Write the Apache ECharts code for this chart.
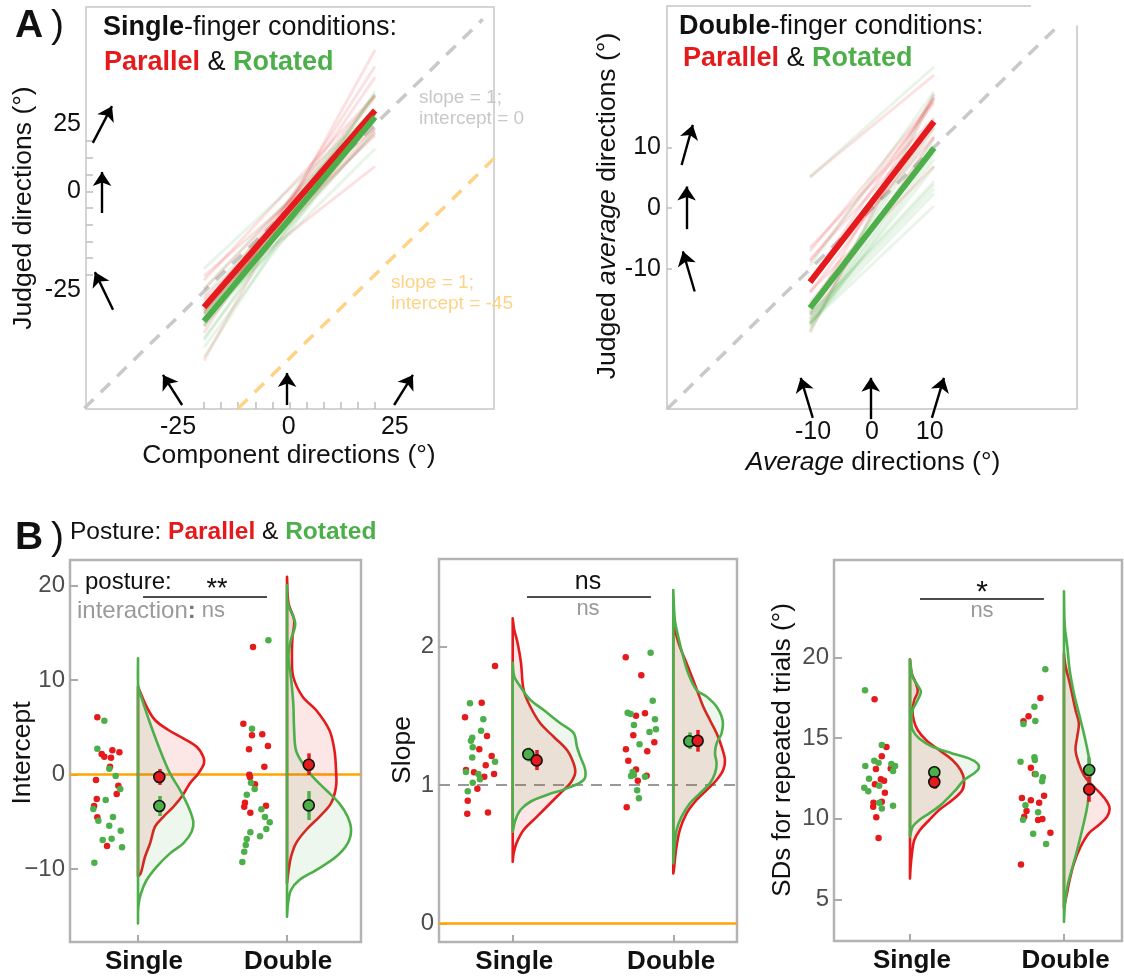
<!DOCTYPE html>
<html><head><meta charset="utf-8">
<script src="https://cdn.jsdelivr.net/npm/echarts@6/dist/echarts.min.js"></script>
<style>html,body{margin:0;padding:0;background:#fff}#c{width:1124px;height:976px}</style>
</head><body><div id="c"></div><script>
const RED = '#E41A1C', GREEN = '#4DAF4A', ORANGE = '#FFA500';
const FONT = '"Liberation Sans", Arial, Helvetica, sans-serif';

// ---------- Panel A: per-participant fits (intercept, slope) ----------
const aSingleRedInt = [6.05, 2.56, 2.35, 2.17, 1.88, 1.78, 0.83, -0.58, -1.18, -2.06, -2.59, -3.33, -4.53, -7.57];
const aSingleRedSlope = [1.108, 1.595, 1.258, 1.060, 1.489, 0.886, 1.86, 1.354, 1.210, 1.142, 0.973, 1.092, 1.080, 0.802];
const aSingleGreenInt = [5.69, 2.73, 0.61, -0.16, -1.53, -2.70, -3.65, -4.89, -4.50, -5.42, -5.95, -6.93, -7.70];
const aSingleGreenSlope = [0.954, 1.080, 1.320, 1.041, 1.198, 1.475, 1.273, 1.591, 1.094, 1.342, 1.169, 1.393, 1.017];
const aDoubleRedInt = [13.49, 5.38, 4.15, 4.25, 3.02, 2.67, 0.83, -0.02, -0.30, -1.04, -2.98, -3.41, -3.30];
const aDoubleRedSlope = [0.839, 1.244, 1.067, 1.309, 1.518, 1.113, 1.793, 1.176, 1.359, 1.923, 1.258, 1.031, 1.501];
const aDoubleGreenInt = [14.2, 4.85, -0.87, -1.53, -2.14, -3.68, -4.50, -5.06, -5.77, -6.12, -6.54, -6.83, -7.46, -8.17, -9.26];
const aDoubleGreenSlope = [0.904, 1.434, 1.957, 1.610, 1.523, 1.513, 1.475, 1.403, 1.383, 1.294, 1.094, 1.072, 1.065, 1.060, 0.962];
const aSingleRange = [-25, 25];
const aDoubleRange = [-10, 10];
// reference lines (slope 1; intercept 0 / -45)
const aSingleIdentity = [[-60, -60], [56.5, 56.5]];
const aSingleOffset45 = [[-15, -60], [60, 15]];
const aDoubleIdentity = [[-33, -33], [30, 30]];
// direction arrows (tail, head)
const aSingleArrows = [
  [[-57.5, 19.5], [-51.9, 30.5]], [[-54.8, -1.5], [-54.8, 10.8]], [[-51.6, -30.5], [-56.9, -19.2]],
  [[-31.4, -59], [-37, -50]], [[-0.7, -59], [-0.7, -49.4]], [[30.6, -59], [36.1, -50]]
];
const aDoubleArrows = [
  [[-30.7, 7.1], [-28.9, 13.7]], [[-29.9, -3.45], [-29.9, 3.57]], [[-28.6, -13.7], [-30.5, -7.1]],
  [[-9.55, -34.5], [-11.5, -27.9]], [[-0.2, -34.7], [-0.2, -27.9]], [[9.66, -34.5], [11.6, -27.9]]
];
// tick labels / tick marks
const aSingleXLabelPos = [-32.6, -0.2, 30.8], aSingleXLabelText = ['-25', '0', '25'];
const aSingleYLabelPos = [25.1, 5.1, -24.6], aSingleYLabelText = ['25', '0', '-25'];
const aSingleXTicks = [-25, -20, -15, -10, -5, 0, 5, 10, 15, 20, 25];
const aSingleYTicks = [-20, -15, -10, -5, 0, 5, 10, 15, 20];
const aDoubleXLabelPos = [-9.5, 0, 9.3], aDoubleXLabelText = ['-10', '0', '10'];
const aDoubleYTicks = [-10, 0, 10], aDoubleYLabelText = ['-10', '0', '10'];

// ---------- Panel B: per-participant values [jitter x, value] ----------
const intSingleRed = [[0.727,6.05],[0.828,2.56],[0.875,2.35],[0.756,2.17],[0.774,1.88],[0.819,1.78],[0.812,0.83],[0.718,-0.58],[0.868,-1.18],[0.857,-2.06],[0.723,-2.59],[0.705,-3.33],[0.727,-4.53],[0.792,-7.57]];
const intSingleGreen = [[0.774,5.69],[0.727,2.73],[0.807,0.61],[0.850,-0.16],[0.881,-1.53],[0.783,-2.70],[0.700,-3.65],[0.734,-4.89],[0.832,-4.50],[0.807,-5.42],[0.884,-5.95],[0.763,-6.93],[0.823,-6.79],[0.893,-7.70],[0.707,-9.33]];
const intDoubleRed = [[1.772,13.49],[1.707,5.38],[1.765,4.15],[1.834,4.25],[1.872,3.02],[1.745,2.67],[1.848,0.83],[1.747,-0.02],[1.752,-0.30],[1.785,-1.04],[1.718,-2.98],[1.713,-3.41],[1.859,-3.30],[1.754,-4.04]];
const intDoubleGreen = [[1.875,14.2],[1.765,4.85],[1.758,-0.87],[1.783,-1.53],[1.730,-2.14],[1.828,-3.68],[1.852,-4.50],[1.884,-5.06],[1.861,-5.77],[1.754,-6.12],[1.819,-6.54],[1.730,-6.83],[1.723,-7.46],[1.713,-8.17],[1.700,-9.26]];

const slopeSingleRed = [[0.890,1.860],[0.807,1.595],[0.703,1.489],[0.840,1.354],[0.792,1.258],[0.869,1.210],[0.832,1.142],[0.709,1.108],[0.759,1.092],[0.884,1.080],[0.823,1.060],[0.780,0.973],[0.720,0.886],[0.717,0.792],[0.846,0.802]];
const slopeSingleGreen = [[0.734,1.591],[0.817,1.475],[0.803,1.393],[0.748,1.342],[0.740,1.320],[0.751,1.273],[0.748,1.198],[0.890,1.169],[0.709,1.094],[0.786,1.080],[0.796,1.041],[0.751,1.017],[0.720,0.954]];
const slopeDoubleRed = [[1.704,1.923],[1.801,1.793],[1.824,1.518],[1.768,1.501],[1.751,1.359],[1.882,1.309],[1.705,1.258],[1.838,1.244],[1.720,1.176],[1.768,1.113],[1.834,1.067],[1.779,1.031],[1.710,0.839]];
const slopeDoubleGreen = [[1.859,1.957],[1.872,1.610],[1.716,1.523],[1.735,1.513],[1.886,1.475],[1.755,1.434],[1.892,1.403],[1.852,1.383],[1.790,1.294],[1.747,1.094],[1.755,1.072],[1.824,1.060],[1.737,1.065],[1.775,0.962],[1.786,0.904]];

const sdSingleRed = [[0.770,17.40],[0.847,14.45],[0.817,13.87],[0.779,13.08],[0.875,13.12],[0.811,12.44],[0.832,12.36],[0.772,12.13],[0.837,11.61],[0.817,11.05],[0.763,10.99],[0.761,10.74],[0.781,10.09],[0.796,8.80]];
const sdSingleGreen = [[0.708,17.96],[0.817,14.57],[0.768,13.60],[0.796,13.47],[0.710,13.27],[0.879,13.39],[0.903,13.27],[0.890,12.96],[0.734,12.48],[0.800,12.05],[0.703,11.92],[0.729,11.70],[0.800,10.99],[0.817,10.64],[0.890,10.81]];
const sdDoubleRed = [[1.847,17.48],[1.770,16.35],[1.737,16.04],[1.785,13.16],[1.811,12.77],[1.727,11.28],[1.785,11.14],[1.839,10.99],[1.871,11.43],[1.757,10.48],[1.742,10.12],[1.832,9.92],[1.860,9.98],[1.912,9.13],[1.721,7.17]];
const sdDoubleGreen = [[1.879,19.26],[1.808,16.94],[1.814,16.06],[1.737,15.87],[1.718,13.53],[1.808,13.81],[1.811,13.64],[1.817,12.75],[1.863,12.57],[1.858,12.32],[1.750,10.83],[1.832,10.40],[1.734,9.94],[1.800,9.07],[1.884,8.43]];

// means [x, mean, low, high]
const intMeanRed = [[1.143,-0.26,-1.10,0.58],[2.146,1.04,-0.05,2.24]];
const intMeanGreen = [[1.143,-3.33,-4.39,-2.27],[2.146,-3.26,-4.81,-1.75]];
const slopeMeanRed = [[1.149,1.178,1.108,1.253],[2.152,1.320,1.241,1.398]];
const slopeMeanGreen = [[1.097,1.222,1.17,1.27],[2.100,1.316,1.26,1.38]];
const sdMeanRed = [[1.158,12.28,11.85,12.70],[2.164,11.82,11.05,12.60]];
const sdMeanGreen = [[1.158,12.88,12.50,13.25],[2.164,13.02,12.20,13.80]];

// half-violin outlines [value, width]
const intViolinSingleRed = [[9.3,0],[8.94,0.009],[7.18,0.058],[5.77,0.114],[4.71,0.204],[3.83,0.304],[2.94,0.394],[1.88,0.438],[1.18,0.443],[0.12,0.405],[-0.93,0.349],[-2.35,0.293],[-3.41,0.237],[-4.47,0.170],[-5.52,0.114],[-7.28,0.081],[-8.70,0.047],[-10.46,0.018],[-10.8,0]];
const intViolinSingleGreen = [[12.3,0],[9.29,0.002],[8.06,0.025],[5.42,0.081],[2.59,0.148],[0.12,0.215],[-1.64,0.282],[-3.41,0.338],[-4.99,0.371],[-6.05,0.360],[-7.28,0.304],[-8.34,0.215],[-9.76,0.125],[-11.16,0.058],[-12.57,0.020],[-13.99,0.002],[-15.75,0]];
const intViolinDoubleRed = [[20.93,0],[18.12,0.010],[16.35,0.048],[14.58,0.037],[12.47,0.033],[10.35,0.042],[8.23,0.105],[6.83,0.195],[4.71,0.284],[2.59,0.318],[0.48,0.329],[-1.29,0.329],[-3.05,0.295],[-4.47,0.217],[-5.87,0.128],[-7.28,0.060],[-8.70,0.027],[-10.11,0.011],[-11.51,0]];
const intViolinDoubleGreen = [[20.05,0],[18.12,0.005],[16.0,0.055],[14.23,0.026],[12.47,0.010],[10.35,0.026],[7.53,0.042],[4.71,0.048],[2.59,0.060],[1.18,0.105],[-0.23,0.172],[-1.64,0.262],[-3.05,0.351],[-4.47,0.407],[-5.87,0.430],[-7.28,0.407],[-8.70,0.329],[-10.11,0.195],[-11.16,0.083],[-12.22,0.027],[-13.63,0.007],[-15.05,0]];
const slopeViolinSingleRed = [[2.205,0],[2.121,0.010],[2.025,0.031],[1.880,0.052],[1.687,0.068],[1.566,0.110],[1.446,0.172],[1.349,0.255],[1.253,0.338],[1.157,0.379],[1.085,0.389],[1.012,0.358],[0.940,0.296],[0.868,0.234],[0.771,0.151],[0.675,0.068],[0.578,0.023],[0.506,0.006],[0.445,0]];
const slopeViolinSingleGreen = [[1.884,0],[1.783,0.010],[1.711,0.048],[1.615,0.110],[1.542,0.193],[1.446,0.297],[1.374,0.380],[1.277,0.400],[1.205,0.421],[1.108,0.452],[1.036,0.442],[0.976,0.338],[0.928,0.213],[0.879,0.110],[0.819,0.048],[0.747,0.017],[0.662,0]];
const slopeViolinDoubleRed = [[2.169,0],[2.121,0.010],[2.0,0.041],[1.880,0.083],[1.759,0.124],[1.663,0.155],[1.566,0.187],[1.470,0.228],[1.374,0.270],[1.277,0.301],[1.181,0.322],[1.108,0.311],[1.036,0.270],[0.964,0.208],[0.892,0.145],[0.795,0.083],[0.675,0.041],[0.530,0.017],[0.385,0.004],[0.36,0]];
const slopeViolinDoubleGreen = [[2.41,0],[2.193,0.010],[2.072,0.031],[1.928,0.062],[1.808,0.093],[1.687,0.145],[1.639,0.208],[1.566,0.270],[1.470,0.307],[1.374,0.301],[1.301,0.270],[1.229,0.260],[1.157,0.270],[1.085,0.260],[1.012,0.228],[0.940,0.166],[0.868,0.104],[0.771,0.052],[0.675,0.021],[0.530,0.006],[0.434,0]];
const sdViolinSingleRed = [[19.88,0],[19.01,0.011],[18.39,0.039],[17.87,0.050],[17.36,0.028],[16.74,0.017],[16.12,0.024],[15.50,0.050],[14.88,0.104],[14.26,0.189],[13.64,0.275],[13.02,0.329],[12.40,0.351],[11.78,0.340],[11.16,0.275],[10.54,0.189],[9.92,0.125],[9.30,0.065],[8.68,0.028],[7.86,0.013],[7.02,0.004],[6.30,0]];
const sdViolinSingleGreen = [[19.88,0],[18.80,0.017],[18.18,0.056],[17.87,0.071],[17.36,0.050],[16.74,0.017],[16.12,0.009],[15.50,0.017],[14.98,0.060],[14.46,0.146],[14.05,0.275],[13.74,0.383],[13.43,0.437],[13.12,0.447],[12.81,0.415],[12.40,0.351],[11.78,0.297],[10.95,0.211],[10.33,0.125],[9.92,0.060],[9.50,0.017],[8.88,0]];
const sdViolinDoubleRed = [[20.25,0],[19.5,0.010],[18.18,0.043],[16.74,0.075],[15.91,0.097],[15.08,0.086],[14.26,0.075],[13.43,0.097],[12.71,0.129],[12.19,0.172],[11.57,0.237],[11.05,0.280],[10.64,0.297],[10.12,0.280],[9.61,0.226],[9.09,0.161],[8.26,0.108],[7.23,0.065],[6.20,0.037],[5.16,0.015],[4.5,0]];
const sdViolinDoubleGreen = [[24.1,0],[22,0.005],[20.66,0.022],[19.22,0.037],[17.77,0.065],[16.53,0.097],[15.29,0.129],[14.05,0.157],[13.02,0.172],[11.98,0.166],[10.74,0.151],[9.50,0.123],[8.06,0.086],[6.82,0.050],[5.78,0.022],[4.75,0.007],[3.61,0]];

// significance bars [x, y]
const intSigBar = [[1.034, 18.78], [1.866, 18.78]];
const slopeSigBar = [[1.089, 2.359], [1.861, 2.359]];
const sdSigBar = [[1.065, 23.62], [1.870, 23.62]];

// B axes ticks and category labels
const bCatTicks = [1, 2], bCatText = ['Single', 'Double'];
const intCatLabelPos = [1.04, 2.007], slopeCatLabelPos = [1.01, 1.987], sdCatLabelPos = [1.013, 2.011];
const intTicks = [-10, 0, 10, 20], intTickText = ['\u221210', '0', '10', '20'];
const slopeTicks = [0, 1, 2], slopeTickText = ['0', '1', '2'];
const sdTicks = [5, 10, 15, 20], sdTickText = ['5', '10', '15', '20'];

// ---------- layout ----------
const grids = [
  {left: 86, top: 7, width: 408, height: 402},
  {left: 667, top: 6, width: 410, height: 403},
  {left: 70, top: 560, width: 291, height: 382},
  {left: 439, top: 559, width: 298, height: 383},
  {left: 834, top: 560, width: 288, height: 381}
];
const xExt = [[-59.5, 59.8], [-33.06, 33.06], [0.5436, 2.4966], [0.541, 2.397], [0.5065, 2.377]];
const yExt = [[-60.2, 60.2], [-33.03, 33.26], [-17.72, 22.70], [-0.135, 2.634], [2.42, 26.04]];

const pick = (pos, txt) => v => { const i = pos.findIndex(p => Math.abs(p - v) < 1e-6); return i < 0 ? '' : txt[i]; };

function axis(g, dim, o) {
  const ext = dim === 'x' ? xExt[g] : yExt[g];
  return {
    gridIndex: g, type: 'value', min: ext[0], max: ext[1],
    axisLine: o.line ? {show: true, onZero: false, lineStyle: {color: '#c4c4c4', width: 1.5}} : {show: false, onZero: false},
    splitLine: {show: false},
    axisTick: o.ticks ? {show: true, inside: true, length: o.tickLen || 7, customValues: o.ticks, lineStyle: {color: o.tickColor || '#bdbdbd', width: o.tickWidth || 1.5}} : {show: false},
    axisLabel: o.labels ? Object.assign({show: true, customValues: o.labels, formatter: pick(o.labels, o.texts), fontFamily: FONT, margin: o.margin || 6, fontSize: o.fontSize || 25, color: o.color || '#111'}, o.labelStyle || {}) : {show: false}
  };
}
const catLabel = {fontWeight: 'bold', fontSize: 26, color: '#111'};
const xAxes = [
  axis(0, 'x', {ticks: aSingleXTicks, labels: aSingleXLabelPos, texts: aSingleXLabelText, margin: 6}),
  axis(1, 'x', {line: true, labels: aDoubleXLabelPos, texts: aDoubleXLabelText, margin: 11}),
  axis(2, 'x', {ticks: bCatTicks, tickColor: '#aaa', tickWidth: 2, labels: intCatLabelPos, texts: bCatText, margin: 7, labelStyle: catLabel}),
  axis(3, 'x', {ticks: bCatTicks, tickColor: '#aaa', tickWidth: 2, labels: slopeCatLabelPos, texts: bCatText, margin: 7, labelStyle: catLabel}),
  axis(4, 'x', {ticks: bCatTicks, tickColor: '#aaa', tickWidth: 2, labels: sdCatLabelPos, texts: bCatText, margin: 7, labelStyle: catLabel})
];
const yAxes = [
  axis(0, 'y', {ticks: aSingleYTicks, labels: aSingleYLabelPos, texts: aSingleYLabelText, margin: 5}),
  axis(1, 'y', {line: true, ticks: aDoubleYTicks, tickLen: 5, labels: aDoubleYTicks, texts: aDoubleYLabelText, margin: 6}),
  axis(2, 'y', {ticks: intTicks, tickColor: '#aaa', tickWidth: 2, tickLen: 8, labels: intTicks, texts: intTickText, margin: 5, fontSize: 24, color: '#4d4d4d'}),
  axis(3, 'y', {ticks: slopeTicks, tickColor: '#aaa', tickWidth: 2, tickLen: 8, labels: slopeTicks, texts: slopeTickText, margin: 5, fontSize: 24, color: '#4d4d4d'}),
  axis(4, 'y', {ticks: sdTicks, tickColor: '#aaa', tickWidth: 2, tickLen: 8, labels: sdTicks, texts: sdTickText, margin: 5, fontSize: 24, color: '#4d4d4d'})
];

function lines(g, data, lineStyle, extra) {
  return Object.assign({type: 'lines', coordinateSystem: 'cartesian2d', xAxisIndex: g, yAxisIndex: g,
    polyline: false, silent: true, symbol: 'none', clip: false, lineStyle: lineStyle, data: data}, extra || {});
}
const fits = (ints, slopes, range) => ints.map((b, i) => ({coords: range.map(x => [x, b + slopes[i] * x])}));
const arrowSeries = (g, arr) => lines(g, arr.map(c => ({coords: c})), {color: '#000', width: 2.4, opacity: 1},
  {symbol: ['none', 'arrow'], symbolSize: [12, 14], z: 6});

function scatter(g, data, color, size, z, extraStyle) {
  return {type: 'scatter', xAxisIndex: g, yAxisIndex: g, silent: true, symbol: 'circle', symbolSize: size,
    itemStyle: Object.assign({color: color, opacity: 1}, extraStyle || {}), data: data, z: z, clip: false};
}
function violin(g, base, shape, color, fill) {
  return {type: 'custom', xAxisIndex: g, yAxisIndex: g, silent: true, z: 3, clip: false,
    data: [[base, shape[0][0]]],
    renderItem: (params, api) => {
      const pts = [api.coord([base, shape[0][0]])];
      shape.forEach(p => pts.push(api.coord([base + p[1], p[0]])));
      pts.push(api.coord([base, shape[shape.length - 1][0]]));
      return {type: 'polygon', shape: {points: pts, smooth: 0.35}, style: {fill: fill, stroke: color, lineWidth: 2.6, lineJoin: 'round'}};
    }};
}
const FILL_R = 'rgba(228,26,28,0.11)', FILL_G = 'rgba(77,175,74,0.10)';
function bPanel(g, sR, sG, dR, dG, vSR, vSG, vDR, vDG, mR, mG, sig) {
  return [
    scatter(g, sR, RED, 6.5, 2), scatter(g, sG, GREEN, 6.5, 2),
    scatter(g, dR, RED, 6.5, 2), scatter(g, dG, GREEN, 6.5, 2),
    violin(g, 1, vSR, RED, FILL_R), violin(g, 1, vSG, GREEN, FILL_G),
    violin(g, 2, vDR, RED, FILL_R), violin(g, 2, vDG, GREEN, FILL_G),
    lines(g, mG.map(m => ({coords: [[m[0], m[2]], [m[0], m[3]]]})), {color: GREEN, width: 3.5, opacity: 1}, {z: 4}),
    lines(g, mR.map(m => ({coords: [[m[0], m[2]], [m[0], m[3]]]})), {color: RED, width: 3.5, opacity: 1}, {z: 4}),
    scatter(g, mG.map(m => [m[0], m[1]]), GREEN, 11, 5, {borderColor: '#111', borderWidth: 1.6}),
    scatter(g, mR.map(m => [m[0], m[1]]), RED, 11, 5, {borderColor: '#111', borderWidth: 1.6}),
    lines(g, [{coords: sig}], {color: '#111', width: 1.5, opacity: 1}, {z: 5})
  ];
}

const series = [
  // Panel A left
  lines(0, [{coords: aSingleIdentity}], {color: '#c9c9c9', width: 3.5, type: [13, 10], opacity: 1}, {z: 1}),
  lines(0, [{coords: aSingleOffset45}], {color: '#ffd386', width: 3.5, type: [13, 10], opacity: 1}, {z: 1}),
  lines(0, fits(aSingleRedInt, aSingleRedSlope, aSingleRange), {color: RED, width: 3, opacity: 0.13}, {z: 2}),
  lines(0, fits(aSingleGreenInt, aSingleGreenSlope, aSingleRange), {color: GREEN, width: 3, opacity: 0.13}, {z: 2}),
  lines(0, [{coords: aSingleRange.map(x => [x, intMeanRed[0][1] + slopeMeanRed[0][1] * x])}], {color: RED, width: 6, opacity: 1}, {z: 4}),
  lines(0, [{coords: aSingleRange.map(x => [x, intMeanGreen[0][1] + slopeMeanGreen[0][1] * x])}], {color: GREEN, width: 6, opacity: 1}, {z: 4}),
  arrowSeries(0, aSingleArrows),
  // Panel A right
  lines(1, [{coords: aDoubleIdentity}], {color: '#c9c9c9', width: 3.5, type: [13, 10], opacity: 1}, {z: 1}),
  lines(1, [{coords: [[-33.06, 33.26], [25.65, 33.26]]}, {coords: [[33.06, 30.1], [33.06, -33.03]]}], {color: '#c4c4c4', width: 1.5, opacity: 1}, {z: 1}),
  lines(1, fits(aDoubleRedInt, aDoubleRedSlope, aDoubleRange), {color: RED, width: 3, opacity: 0.13}, {z: 2}),
  lines(1, fits(aDoubleGreenInt, aDoubleGreenSlope, aDoubleRange), {color: GREEN, width: 3, opacity: 0.13}, {z: 2}),
  lines(1, [{coords: aDoubleRange.map(x => [x, intMeanRed[1][1] + slopeMeanRed[1][1] * x])}], {color: RED, width: 6, opacity: 1}, {z: 4}),
  lines(1, [{coords: aDoubleRange.map(x => [x, intMeanGreen[1][1] + slopeMeanGreen[1][1] * x])}], {color: GREEN, width: 6, opacity: 1}, {z: 4}),
  arrowSeries(1, aDoubleArrows),
  // Panel B reference lines
  lines(2, [{coords: [[xExt[2][0], 0], [xExt[2][1], 0]]}], {color: ORANGE, width: 2.5, opacity: 1}, {z: 1}),
  lines(3, [{coords: [[xExt[3][0], 0], [xExt[3][1], 0]]}], {color: ORANGE, width: 2.5, opacity: 1}, {z: 1}),
  lines(3, [{coords: [[xExt[3][0], 1], [xExt[3][1], 1]]}], {color: '#999', width: 2, type: [11, 8], opacity: 1}, {z: 1}),
  ...bPanel(2, intSingleRed, intSingleGreen, intDoubleRed, intDoubleGreen, intViolinSingleRed, intViolinSingleGreen, intViolinDoubleRed, intViolinDoubleGreen, intMeanRed, intMeanGreen, intSigBar),
  ...bPanel(3, slopeSingleRed, slopeSingleGreen, slopeDoubleRed, slopeDoubleGreen, slopeViolinSingleRed, slopeViolinSingleGreen, slopeViolinDoubleRed, slopeViolinDoubleGreen, slopeMeanRed, slopeMeanGreen, slopeSigBar),
  ...bPanel(4, sdSingleRed, sdSingleGreen, sdDoubleRed, sdDoubleGreen, sdViolinSingleRed, sdViolinSingleGreen, sdViolinDoubleRed, sdViolinDoubleGreen, sdMeanRed, sdMeanGreen, sdSigBar)
];

const R = (o) => Object.assign({fontFamily: FONT, fill: '#111'}, o);
function txt(x, y, text, style, rot) {
  const el = {type: 'text', x: x, y: y, silent: true, z: 100,
    style: Object.assign({text: text, fontFamily: FONT, fill: '#111', align: 'left', verticalAlign: 'middle'}, style)};
  if (rot) el.rotation = rot;
  return el;
}
const richTitle = (sz) => ({
  b: R({fontSize: sz, fontWeight: 'bold'}), n: R({fontSize: sz}),
  r: R({fontSize: sz, fontWeight: 'bold', fill: RED}), g: R({fontSize: sz, fontWeight: 'bold', fill: GREEN}),
  i: R({fontSize: sz, fontStyle: 'italic'})
});
const NAME = 26.5;
const graphic = [
  txt(15, 26, '{a|A}{p|\u2009)}', {rich: {a: R({fontSize: 39, fontWeight: 'bold'}), p: R({fontSize: 39})}}),
  txt(103, 28, '{b|Single}{n|-finger conditions:}', {rich: richTitle(27)}),
  txt(104, 63, '{r|Parallel}{n| & }{g|Rotated}', {rich: richTitle(27)}),
  txt(419, 108, 'slope = 1;\nintercept = 0', {fontSize: 19, lineHeight: 21, fill: '#c8c8c8'}),
  txt(391, 293, 'slope = 1;\nintercept = -45', {fontSize: 19, lineHeight: 21, fill: '#ffd386'}),
  txt(289, 456, 'Component directions (\u00b0)', {fontSize: NAME, align: 'center'}),
  txt(24, 208, 'Judged directions (\u00b0)', {fontSize: NAME, align: 'center'}, Math.PI / 2),
  txt(679, 27, '{b|Double}{n|-finger conditions:}', {rich: richTitle(27)}),
  txt(683, 59, '{r|Parallel}{n| & }{g|Rotated}', {rich: richTitle(27)}),
  txt(608, 206, '{n|Judged }{i|average}{n| directions (\u00b0)}', {align: 'center', rich: richTitle(NAME)}, Math.PI / 2),
  txt(873, 463, '{i|Average}{n| directions (\u00b0)}', {align: 'center', rich: richTitle(NAME)}),
  txt(15, 538, '{a|B}{p|\u2009)}', {rich: {a: R({fontSize: 39, fontWeight: 'bold'}), p: R({fontSize: 39})}}),
  txt(70, 532, '{n|Posture: }{r|Parallel}{n| & }{g|Rotated}', {rich: richTitle(24.5)}),
  txt(85, 582, 'posture:', {fontSize: 24}),
  txt(217, 590, '**', {fontSize: 27, align: 'center'}),
  txt(77, 611, '{i|interaction}{c|:}{s| ns}', {rich: {i: R({fontSize: 24, fill: '#9a9a9a'}), c: R({fontSize: 24, fontWeight: 'bold', fill: '#777'}), s: R({fontSize: 22, fill: '#9a9a9a'})}}),
  txt(588, 582, 'ns', {fontSize: 25, align: 'center'}),
  txt(588, 609, 'ns', {fontSize: 22, align: 'center', fill: '#9a9a9a'}),
  txt(982, 593, '*', {fontSize: 30, align: 'center'}),
  txt(982, 611, 'ns', {fontSize: 22, align: 'center', fill: '#9a9a9a'}),
  txt(23, 753, 'Intercept', {fontSize: NAME, align: 'center'}, Math.PI / 2),
  txt(403, 750, 'Slope', {fontSize: NAME, align: 'center'}, Math.PI / 2),
  txt(783, 750, 'SDs for repeated trials (\u00b0)', {fontSize: 26, align: 'center'}, Math.PI / 2)
];

const gridOpts = grids.map((g, i) => Object.assign({
  show: i !== 1, borderColor: i < 2 ? '#c8c8c8' : '#b3b3b3', borderWidth: i < 2 ? 1.5 : 2.5,
  backgroundColor: 'transparent', containLabel: false, outerBoundsMode: 'none'
}, g));

const chart = echarts.init(document.getElementById('c'), null, {renderer: 'canvas'});
chart.setOption({animation: false, backgroundColor: '#fff', grid: gridOpts, xAxis: xAxes, yAxis: yAxes, series: series, graphic: graphic});
</script></body></html>
